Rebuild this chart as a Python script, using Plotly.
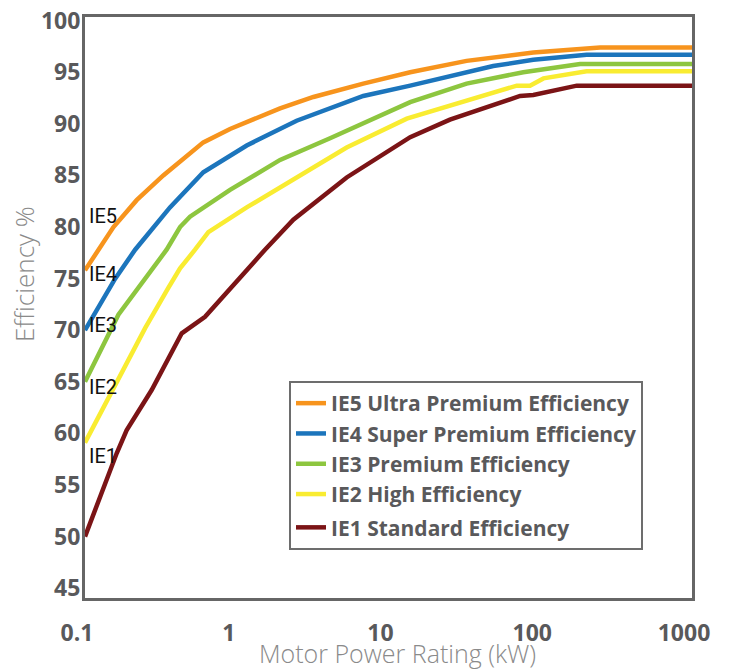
import plotly.graph_objects as go

# ---- data ----
ie5_kw  = [0.1, 0.154, 0.219, 0.328, 0.602, 0.903, 1.93, 3.2, 6.82, 13.9, 32.7, 90, 248, 1000]
ie5_eff = [75.8, 80.0, 82.6, 85.0, 88.2, 89.5, 91.5, 92.6, 93.9, 95.0, 96.1, 96.9, 97.4, 97.4]

ie4_kw  = [0.1, 0.158, 0.214, 0.363, 0.602, 1.163, 2.48, 6.82, 13.9, 32.7, 49, 90, 202, 1000]
ie4_eff = [70.0, 75.0, 77.8, 81.9, 85.3, 87.9, 90.3, 92.7, 93.7, 95.0, 95.6, 96.2, 96.7, 96.7]

ie3_kw  = [0.1, 0.166, 0.345, 0.423, 0.492, 0.903, 1.93, 4.12, 13.9, 32.7, 77.3, 183, 1000]
ie3_eff = [65.0, 71.5, 77.8, 80.0, 81.0, 83.6, 86.5, 88.6, 92.1, 93.9, 95.0, 95.8, 95.8]

ie2_kw  = [0.1, 0.166, 0.249, 0.354, 0.423, 0.531, 0.65, 1.163, 2.13, 5.3, 13.2, 32.7, 70, 85.6, 105, 202, 1000]
ie2_eff = [59.1, 65.2, 70.2, 74.1, 76.0, 77.8, 79.5, 81.9, 84.2, 87.7, 90.5, 92.3, 93.7, 93.7, 94.4, 95.1, 95.1]

ie1_kw  = [0.1, 0.126, 0.162, 0.188, 0.275, 0.434, 0.618, 1.535, 2.36, 5.3, 13.9, 25.4, 73.6, 90, 174, 1000]
ie1_eff = [50.0, 53.9, 58.1, 60.3, 64.2, 69.7, 71.3, 77.8, 80.7, 84.8, 88.7, 90.4, 92.7, 92.8, 93.7, 93.7]

series_names = ["IE5 Ultra Premium Efficiency", "IE4 Super Premium Efficiency",
                "IE3 Premium Efficiency", "IE2 High Efficiency", "IE1 Standard Efficiency"]
short_labels = ["IE5", "IE4", "IE3", "IE2", "IE1"]
label_y = [81.1, 75.4, 70.5, 64.5, 57.8]

x_tickvals = [0.1, 1, 10, 100, 1000]
x_ticktext = ["0.1", "1", "10", "100", "1000"]

colors = ["#F7941D", "#1C75BC", "#8DC63F", "#F9EC31", "#7B1416"]

xs = [ie5_kw, ie4_kw, ie3_kw, ie2_kw, ie1_kw]
ys = [ie5_eff, ie4_eff, ie3_eff, ie2_eff, ie1_eff]
groups = ["a", "a", "a", "a", "b"]

fig = go.Figure()
for name, x, y, c, g in zip(series_names, xs, ys, colors, groups):
    fig.add_trace(go.Scatter(x=x, y=y, mode="lines", name=name, legendgroup=g,
                             line=dict(color=c, width=4.5)))

for lab, yy in zip(short_labels, label_y):
    fig.add_annotation(x=-1, xref="x", y=yy, yref="y", text=lab, showarrow=False,
                       xanchor="left", yanchor="middle", xshift=2,
                       font=dict(family="Roboto, sans-serif", size=20, color="#111111"))

title_font = dict(family="Open Sans, sans-serif", color="#8a8a8a", weight=300)

# axis titles (placed as in the reference)
fig.add_annotation(x=0, xref="paper", xanchor="center", xshift=-61,
                   y=(598 - 274) / 581, yref="paper", yanchor="middle",
                   text="Efficiency %", textangle=-90, showarrow=False,
                   font=dict(size=26, **title_font))
fig.add_annotation(x=(397 - 85) / 607, xref="paper", xanchor="center",
                   y=0, yref="paper", yanchor="middle", yshift=-55,
                   text="Motor Power Rating (kW)", showarrow=False,
                   font=dict(size=25, **title_font))

gray = "#59595b"
fig.update_layout(
    width=734, height=669,
    margin=dict(l=77, r=50, t=9, b=79),
    paper_bgcolor="white", plot_bgcolor="white",
    showlegend=True,
    legend=dict(x=(289 - 85) / 607, y=(598 - 381) / 581, xanchor="left", yanchor="top",
                bordercolor="#6d6d6d", borderwidth=2, bgcolor="white",
                traceorder="grouped", tracegroupgap=3,
                font=dict(family="Open Sans, sans-serif", size=21, color=gray, weight="bold")),
    xaxis=dict(type="log", range=[-1, 3], tickvals=x_tickvals, ticktext=x_ticktext,
               automargin=False, ticklabeloverflow="allow",
               showgrid=False, zeroline=False, showline=True, mirror=True,
               linecolor="#666666", linewidth=3, ticks="", ticklabelstandoff=12,
               ticklabelshift=-8,
               tickfont=dict(family="Open Sans, sans-serif", size=23, color=gray, weight="bold")),
    yaxis=dict(range=[44.05, 100.35], tickvals=list(range(45, 101, 5)),
               automargin=False, ticklabeloverflow="allow",
               showgrid=False, zeroline=False, showline=True, mirror=True,
               linecolor="#666666", linewidth=3, ticks="", ticklabelstandoff=-3,
               tickfont=dict(family="Open Sans, sans-serif", size=23, color=gray, weight="bold")),
)

fig.write_html("out.html")
